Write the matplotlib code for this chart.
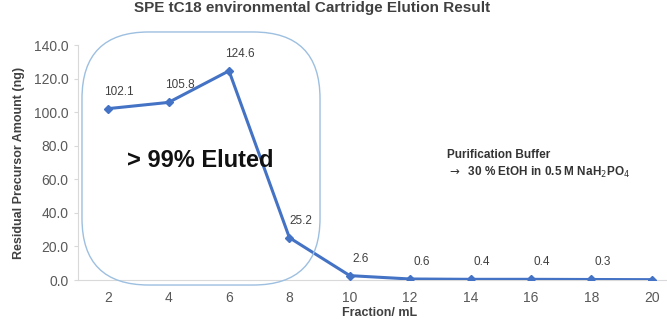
import matplotlib.pyplot as plt
from matplotlib.patches import FancyBboxPatch

plt.rcParams['font.family'] = ['Liberation Sans', 'DejaVu Sans']

# chart data
fractions = [2, 4, 6, 8, 10, 12, 14, 16, 18, 20]
residual = [102.1, 105.8, 124.6, 25.2, 2.6, 0.6, 0.4, 0.4, 0.3, 0.2]
point_labels = ['102.1', '105.8', '124.6', '25.2', '2.6', '0.6', '0.4', '0.4', '0.3', '']
y_ticks = [0, 20, 40, 60, 80, 100, 120, 140]

fig = plt.figure(figsize=(6.67, 3.26), dpi=100)
ax = fig.add_axes([78 / 667, 1 - 280 / 326, 604 / 667, 235 / 326])

ax.plot(fractions, residual, color='#4472C4', linewidth=2.2,
        marker='D', markersize=4.5, zorder=3)

for x, y, lab in zip(fractions, residual, point_labels):
    if lab:
        ax.annotate(lab, (x, y), xytext=(8, 8), textcoords='offset points',
                    ha='center', va='bottom', fontsize=8.5, color='#404040')

ax.set_xlim(1, 21)
ax.set_ylim(0, 140)
ax.set_xticks(fractions)
ax.set_yticks(y_ticks)
ax.set_yticklabels([f'{v:.1f}' for v in y_ticks])
ax.tick_params(axis='both', labelsize=10, colors='#595959', length=0, pad=8)
ax.tick_params(axis='y', length=3, color='#d9d9d9', pad=4)

for side in ['top', 'right']:
    ax.spines[side].set_visible(False)
ax.spines['left'].set_color('#d9d9d9')
ax.spines['bottom'].set_color('#d9d9d9')

ax.set_xlabel('Fraction/ mL', fontsize=9, fontweight='bold', color='#404040', labelpad=1)
ax.set_ylabel('Residual Precursor Amount (ng)', fontsize=9, fontweight='bold',
              color='#404040', labelpad=6)

# title sits right at the top edge, as in the original
fig.text(312 / 667, 1 - 1 / 326, 'SPE tC18 environmental Cartridge Elution Result',
         ha='center', va='top', fontsize=11, fontweight='bold', color='#404040')

# rounded box around the eluted fractions
box = FancyBboxPatch((122 / 667, 1 - 245 / 326), 158 / 667, 173 / 326,
                     boxstyle='round,pad=0.06,rounding_size=0.1',
                     transform=fig.transFigure, fill=False,
                     edgecolor='#9dbfe0', linewidth=1.0, zorder=1,
                     mutation_aspect=667 / 326)
fig.add_artist(box)

fig.text(200 / 667, 1 - 160 / 326, '> 99% Eluted', ha='center', va='center',
         fontsize=17, fontweight='bold', color='#111111')

fig.text(447 / 667, 1 - 155 / 326, 'Purification Buffer', ha='left', va='center',
         fontsize=8.5, fontweight='bold', color='#333333')
fig.text(447 / 667, 1 - 172 / 326, r'$\rightarrow$  30 % EtOH in 0.5 M NaH$_2$PO$_4$',
         ha='left', va='center', fontsize=8.5, fontweight='bold', color='#333333')

fig.savefig('out.png', dpi=100)
